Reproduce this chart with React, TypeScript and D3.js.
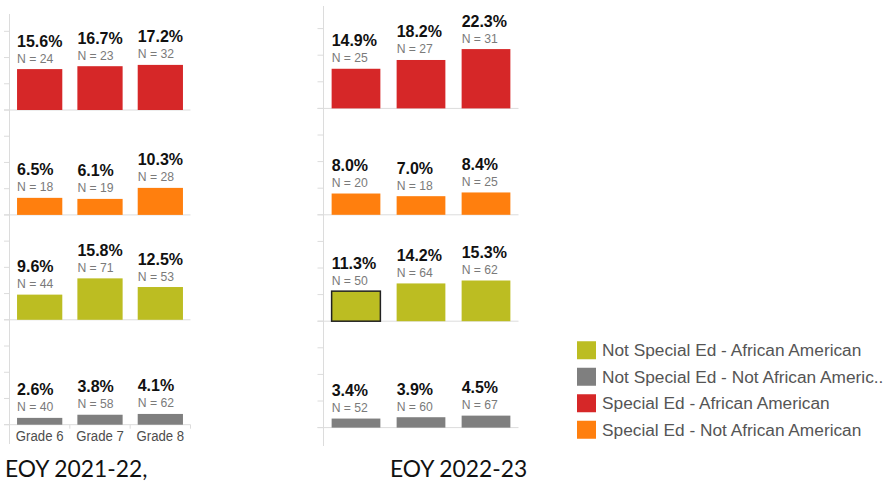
import React from "react";
import * as d3 from "d3";

const grades = ["Grade 6", "Grade 7", "Grade 8"];
const segments = [
  "Special Ed - African American",
  "Special Ed - Not African American",
  "Not Special Ed - African American",
  "Not Special Ed - Not African American",
];
const segmentColors = ["#d62728", "#ff7f0e", "#bcbd22", "#7f7f7f"];

// EOY 2021-22 (percent, N) per segment, per grade
const pct2122 = [
  [15.6, 16.7, 17.2],
  [6.5, 6.1, 10.3],
  [9.6, 15.8, 12.5],
  [2.6, 3.8, 4.1],
];
const n2122 = [
  [24, 23, 32],
  [18, 19, 28],
  [44, 71, 53],
  [40, 58, 62],
];
// EOY 2022-23
const pct2223 = [
  [14.9, 18.2, 22.3],
  [8.0, 7.0, 8.4],
  [11.3, 14.2, 15.3],
  [3.4, 3.9, 4.5],
];
const n2223 = [
  [25, 27, 31],
  [20, 18, 25],
  [50, 64, 62],
  [52, 60, 67],
];

const legendOrder = [2, 3, 0, 1];
const legendLabels = [
  "Not Special Ed - African American",
  "Not Special Ed - Not African Americ..",
  "Special Ed - African American",
  "Special Ed - Not African American",
];
const yTicks = [0, 10, 20, 30];
const titles = ["EOY 2021-22,", "EOY 2022-23"];

type PanelCfg = {
  pct: number[][];
  n: number[][];
  x0: number;
  x1: number;
  axisX: number;
  tickX: number;
  base0: number;
  rowH: number;
  axisTop: number;
  axisBottom: number;
  showGrades: boolean;
  title: string;
  titleX: number;
  highlight?: [number, number];
};

const SANS = "'Liberation Sans', Arial, sans-serif";

function Panel({ cfg }: { cfg: PanelCfg }) {
  const x = d3.scaleBand<string>().domain(grades).range([cfg.x0, cfg.x1]).paddingInner(0.25).paddingOuter(0.125);
  const grid = "#dcdcdc";
  return (
    <g>
      <line x1={cfg.axisX} x2={cfg.axisX} y1={cfg.axisTop} y2={cfg.axisBottom} stroke={grid} strokeWidth={1} />
      {segments.map((seg, r) => {
        const base = cfg.base0 + r * cfg.rowH;
        const y = d3.scaleLinear().domain([0, 40]).range([base, base - cfg.rowH]);
        return (
          <g key={seg}>
            {yTicks.map((t) => (
              <line key={t} x1={cfg.tickX} x2={cfg.axisX} y1={y(t)} y2={y(t)} stroke={grid} strokeWidth={1} />
            ))}
            <line x1={cfg.tickX} x2={cfg.x1} y1={y(0)} y2={y(0)} stroke={grid} strokeWidth={1} />
            {grades.map((g, i) => {
              const v = cfg.pct[r][i];
              const bx = x(g)!;
              const top = y(v);
              const hl = cfg.highlight && cfg.highlight[0] === r && cfg.highlight[1] === i;
              return (
                <g key={g}>
                  <rect
                    x={bx}
                    y={top}
                    width={x.bandwidth()}
                    height={y(0) - top}
                    fill={segmentColors[r]}
                    stroke={hl ? "#222" : "none"}
                    strokeWidth={hl ? 1.5 : 0}
                  />
                  <text x={bx} y={top - 22.5} fontFamily={SANS} fontWeight="bold" fontSize={16} fill="#111">
                    {v.toFixed(1) + "%"}
                  </text>
                  <text
                    transform={`translate(${bx},${top - 6.5}) scale(1,1.1)`}
                    fontFamily={SANS}
                    fontSize={12.2}
                    fill="#7a7a7a"
                  >
                    {"N = " + cfg.n[r][i]}
                  </text>
                </g>
              );
            })}
          </g>
        );
      })}
      {cfg.showGrades && (
        <g>
          {grades.map((g, i) => {
            const cx = x(g)! + x.bandwidth() / 2;
            const sep = x(g)! + x.bandwidth() + (x.step() - x.bandwidth()) / 2;
            const base = cfg.base0 + 3 * cfg.rowH;
            return (
              <g key={g}>
                <line x1={sep} x2={sep} y1={base} y2={base + 4} stroke={grid} />
                <text
                  transform={`translate(${cx},${base + 16}) scale(1,1.08)`}
                  textAnchor="middle"
                  fontFamily={SANS}
                  fontSize={13.2}
                  fill="#4d4d4d"
                >
                  {g}
                </text>
              </g>
            );
          })}
        </g>
      )}
      <text x={cfg.titleX} y={477} fontFamily="Lato, 'Open Sans', sans-serif" fontSize={22.8} fill="#111">
        {cfg.title}
      </text>
    </g>
  );
}

export default function App() {
  const left: PanelCfg = {
    pct: pct2122,
    n: n2122,
    x0: 9.5,
    x1: 190.5,
    axisX: 9.5,
    tickX: 4,
    base0: 110,
    rowH: 104.9,
    axisTop: 14,
    axisBottom: 444,
    showGrades: true,
    title: titles[0],
    titleX: 5,
  };
  const right: PanelCfg = {
    pct: pct2223,
    n: n2223,
    x0: 323.5,
    x1: 518.5,
    axisX: 323.5,
    tickX: 317.5,
    base0: 108.4,
    rowH: 106.4,
    axisTop: 6,
    axisBottom: 446,
    showGrades: false,
    title: titles[1],
    titleX: 390,
    highlight: [2, 0],
  };
  const legendY = d3.scaleBand<number>().domain(legendOrder).range([337, 443]);
  return (
    <div style={{ position: "fixed", left: 0, top: 0 }}>
      <svg width={887} height={483} style={{ display: "block", background: "#fff" }}>
        <Panel cfg={left} />
        <Panel cfg={right} />
        {legendOrder.map((s, i) => {
          const yy = legendY(s)! + legendY.bandwidth() / 2;
          return (
            <g key={s}>
              <rect x={577} y={yy - 9} width={19} height={18} fill={segmentColors[s]} />
              <text x={602} y={yy + 6} fontFamily={SANS} fontSize={17.3} fill="#555">
                {legendLabels[i]}
              </text>
            </g>
          );
        })}
      </svg>
    </div>
  );
}
